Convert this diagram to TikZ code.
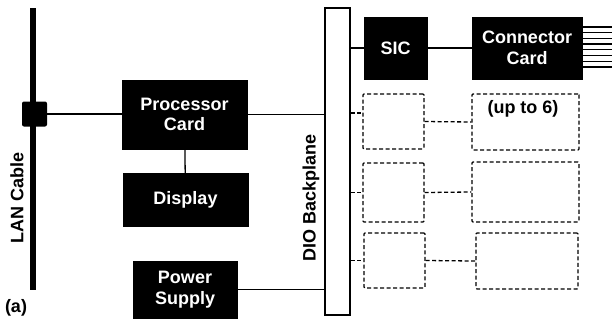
\documentclass[tikz,border=0pt]{standalone}
\usepackage{fontspec}
\setmainfont{Liberation Sans}
\begin{document}
\begin{tikzpicture}[x=1pt,y=-1pt,
 blk/.style={draw=black,fill=black,text=white,font=\fontsize{18}{20.5}\selectfont\bfseries,align=center,inner sep=0pt},
 dbox/.style={draw,dash pattern=on 4pt off 2.5pt,line width=1.3pt,inner sep=0pt,rounded corners=1pt},
 ln/.style={line width=1.3pt},
 dln/.style={line width=1.3pt,dash pattern=on 4pt off 2.5pt},
 lbl/.style={font=\fontsize{18}{20}\selectfont\bfseries,inner sep=0pt}]
\useasboundingbox (0,0) rectangle (612,322);
% LAN cable
\node[fill=black,minimum width=6pt,minimum height=282pt,inner sep=0pt] (cable) at (33,149) {};
\node[fill=black,minimum width=25pt,minimum height=25pt,inner sep=0pt,rounded corners=2pt] (tap) at (34.5,114) {};
\node[lbl,rotate=90] (lanlbl) at (17,198) {LAN Cable};
\node[lbl] (a) at (16,308) {(a)};
% left boxes
\node[blk,minimum width=125pt,minimum height=69pt] (proc) at (184.5,114.5) {Processor\\Card};
\node[blk,minimum width=125pt,minimum height=53pt] (disp) at (185.5,199.5) {Display};
\node[blk,minimum width=104pt,minimum height=57pt] (psu) at (185,289.5) {Power\\Supply};
% backplane
\node[draw,line width=1.3pt,minimum width=25pt,minimum height=307pt,inner sep=0pt] (bp) at (337.5,161.5) {};
\node[lbl,rotate=90] (bplbl) at (311,198) {DIO Backplane};
% right boxes
\node[blk,minimum width=63pt,minimum height=62pt] (sic) at (395.5,48) {SIC};
\node[blk,minimum width=110pt,minimum height=62pt] (cc) at (527,48) {Connector\\Card};
\node[dbox,minimum width=61pt,minimum height=55pt] (d11) at (393.5,121.5) {};
\node[dbox,minimum width=107pt,minimum height=56pt] (d12) at (525.5,122) {};
\node[lbl] (upto) at (523,109) {(up to 6)};
\node[dbox,minimum width=61pt,minimum height=59pt] (d21) at (393.5,192.5) {};
\node[dbox,minimum width=107pt,minimum height=60pt] (d22) at (525.5,192) {};
\node[dbox,minimum width=61pt,minimum height=55pt] (d31) at (394.5,260.5) {};
\node[dbox,minimum width=102pt,minimum height=56pt] (d32) at (527,261) {};
% connectors
\draw[ln] (tap.east) -- (tap.east -| proc.west);
\draw[ln] (proc) -- (disp);
\draw[ln] (proc.east) -- (proc.east -| bp.west);
\draw[ln] (psu.east) -- (psu.east -| bp.west);
\draw[ln] (bp.east |- sic.west) -- (sic.west);
\draw[ln] (sic) -- (cc);
\foreach \i in {0,...,7}{
  \draw[ln] (cc.east |- 0,{27+\i*5.7}) -- ++(31,0);
}
\draw[dln] (bp.east |- 0,113) -- (d11.west |- 0,113);
\draw[dln] (d11.east) -- (d12.west);
\draw[dln] (bp.east |- d21.west) -- (d21.west);
\draw[dln] (d21.east) -- (d22.west);
\draw[dln] (bp.east |- d31.west) -- (d31.west);
\draw[dln] (d31.east) -- (d32.west);
\end{tikzpicture}
\end{document}
